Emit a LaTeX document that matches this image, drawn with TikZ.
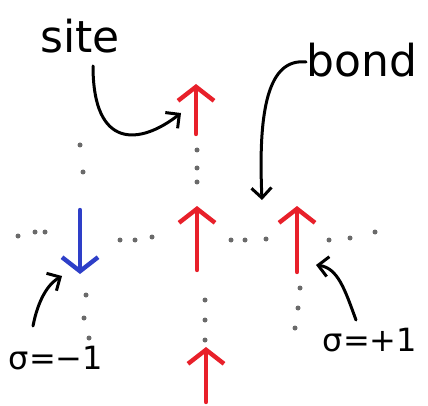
\documentclass[tikz,border=0pt]{standalone}
\usepackage{fontspec}
\setmainfont{DejaVu Sans}
\usetikzlibrary{arrows.meta}
\definecolor{spinred}{HTML}{E8202A}
\definecolor{spinblue}{HTML}{2E3FC8}
\definecolor{dotgray}{HTML}{6A6A6A}
\tikzset{
  spinup/.style={draw=spinred, line width=4.4pt, line cap=round, -{Straight Barb[length=14pt,width=36pt,line width=4.4pt]}},
  spindown/.style={draw=spinblue, line width=4.4pt, line cap=round, -{Straight Barb[length=14pt,width=36pt,line width=4.4pt]}},
  pointer/.style={draw=black, line width=3pt, line cap=round, -{Straight Barb[length=10pt,width=20pt,line width=3pt]}},
  gdot/.style={circle, fill=dotgray, inner sep=0pt, minimum size=5pt},
  label/.style={font=\fontsize{44}{48}\selectfont, inner sep=0pt},
  slabel/.style={font=\fontsize{32}{36}\selectfont, inner sep=0pt}
}
\begin{document}
\begin{tikzpicture}[x=1pt,y=-1pt]
\useasboundingbox (0,0) rectangle (428,406);
% spin endpoints
\coordinate (s1b) at (196,134); \coordinate (s1t) at (196,84);
\coordinate (s2t) at (80,210);  \coordinate (s2b) at (80,274);
\coordinate (s3b) at (197,270); \coordinate (s3t) at (197,206);
\coordinate (s4b) at (297,272); \coordinate (s4t) at (297,206);
\coordinate (s5b) at (206,402); \coordinate (s5t) at (206,347);
\draw[spinup] (s1b) -- (s1t);
\draw[spindown] (s2t) -- (s2b);
\draw[spinup] (s3b) -- (s3t);
\draw[spinup] (s4b) -- (s4t);
\draw[spinup] (s5b) -- (s5t);
% dots
\foreach \n/\x/\y in {a1/80/145, a2/83/172, b1/197/150, b2/197/168, b3/197/182,
  c1/18/236, c2/35/232, c3/45/232,
  d1/120/240, d2/135/240, d3/152/237,
  e1/231/240, e2/245/240, e3/266/239,
  f1/329/240, f2/350/238, f3/375/232,
  g1/86/295, g2/84/318, g3/89/338,
  h1/205/300, h2/205/320, h3/205/340,
  k1/300/288, k2/298/308, k3/295/328}
  \node[gdot] (\n) at (\x,\y) {};
% labels
\node[label] (site) at (80,36) {site};
\node[label] (bond) at (362,60) {bond};
\node[slabel] (sm) at (56,358) {σ=−1};
\node[slabel] (sp) at (370,340) {σ=+1};
% pointer ends
\coordinate (sitefrom) at (93,66);
\coordinate (siteto) at (181,113);
\coordinate (bondfrom) at (306,62);
\coordinate (bondto) at (262,200);
\coordinate (smfrom) at (33,326);
\coordinate (smto) at (62,276);
\coordinate (spfrom) at (356,320);
\coordinate (spto) at (316,265);
\draw[pointer] (sitefrom) .. controls (93,150) and (140,145) .. (siteto);
\draw[pointer] (bondfrom) .. controls (268,58) and (258,110) .. (bondto);
\draw[pointer] (smfrom) .. controls (38,300) and (48,284) .. (smto);
\draw[pointer] (spfrom) .. controls (345,290) and (338,268) .. (spto);
\end{tikzpicture}
\end{document}
